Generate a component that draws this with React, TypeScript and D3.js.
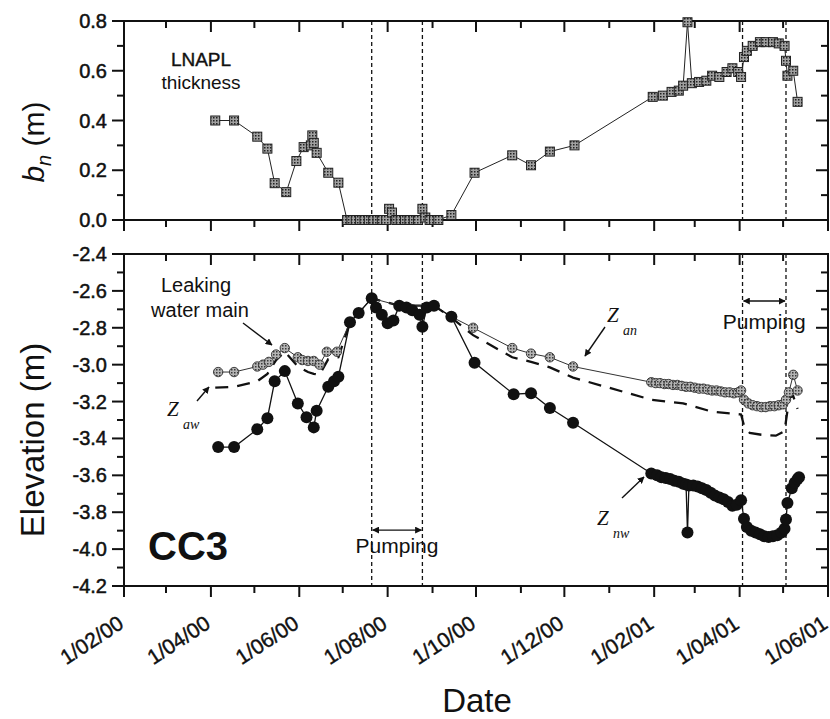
import React from "react";
import * as d3 from "d3";

// LNAPL thickness b_n (m)
const thickness: [string, number][] = [
  ["2000-04-04", 0.4], ["2000-04-17", 0.4], ["2000-05-03", 0.335], ["2000-05-10", 0.287],
  ["2000-05-15", 0.148], ["2000-05-23", 0.112], ["2000-05-30", 0.237], ["2000-06-04", 0.293],
  ["2000-06-09", 0.3], ["2000-06-10", 0.34], ["2000-06-11", 0.31], ["2000-06-13", 0.27],
  ["2000-06-21", 0.19], ["2000-06-28", 0.15], ["2000-07-04", 0], ["2000-07-07", 0],
  ["2000-07-10", 0], ["2000-07-13", 0], ["2000-07-16", 0], ["2000-07-19", 0],
  ["2000-07-22", 0], ["2000-07-25", 0], ["2000-07-28", 0], ["2000-07-31", 0],
  ["2000-08-02", 0.045], ["2000-08-04", 0.03], ["2000-08-07", 0], ["2000-08-10", 0],
  ["2000-08-13", 0], ["2000-08-16", 0], ["2000-08-19", 0], ["2000-08-22", 0],
  ["2000-08-25", 0.045], ["2000-08-27", 0.01], ["2000-08-30", 0], ["2000-09-02", 0],
  ["2000-09-05", 0], ["2000-09-14", 0.02], ["2000-09-30", 0.19], ["2000-10-26", 0.26],
  ["2000-11-08", 0.22], ["2000-11-21", 0.275], ["2000-12-08", 0.3], ["2001-01-31", 0.495],
  ["2001-02-07", 0.5], ["2001-02-13", 0.515], ["2001-02-18", 0.52], ["2001-02-21", 0.54],
  ["2001-02-24", 0.795], ["2001-02-27", 0.55], ["2001-03-04", 0.555], ["2001-03-09", 0.56],
  ["2001-03-13", 0.58], ["2001-03-18", 0.575], ["2001-03-23", 0.595], ["2001-03-27", 0.61],
  ["2001-03-31", 0.595], ["2001-04-02", 0.575], ["2001-04-04", 0.655], ["2001-04-06", 0.68],
  ["2001-04-10", 0.7], ["2001-04-15", 0.715], ["2001-04-19", 0.715], ["2001-04-24", 0.715],
  ["2001-04-28", 0.71], ["2001-05-02", 0.7], ["2001-05-03", 0.64], ["2001-05-04", 0.58],
  ["2001-05-08", 0.6], ["2001-05-11", 0.475],
];

// z_an: air/LNAPL interface elevation (m)
const zAn: [string, number][] = [
  ["2000-04-06", -3.04], ["2000-04-17", -3.04], ["2000-05-03", -3.01], ["2000-05-07", -3.0],
  ["2000-05-11", -2.985], ["2000-05-16", -2.945], ["2000-05-22", -2.91], ["2000-05-31", -2.96],
  ["2000-06-03", -2.975], ["2000-06-07", -2.98], ["2000-06-11", -2.98], ["2000-06-15", -3.0],
  ["2000-06-20", -2.93], ["2000-06-27", -2.93], ["2000-07-06", -2.77], ["2000-07-12", -2.72],
  ["2000-07-21", -2.64], ["2000-08-09", -2.68], ["2000-09-02", -2.68], ["2000-09-14", -2.74],
  ["2000-09-29", -2.8], ["2000-10-26", -2.91], ["2000-11-08", -2.94], ["2000-11-21", -2.96],
  ["2000-12-07", -3.01], ["2001-01-30", -3.095], ["2001-02-02", -3.1], ["2001-02-05", -3.1],
  ["2001-02-08", -3.105], ["2001-02-11", -3.105], ["2001-02-14", -3.11], ["2001-02-17", -3.11],
  ["2001-02-20", -3.115], ["2001-02-23", -3.12], ["2001-02-26", -3.12], ["2001-03-01", -3.125],
  ["2001-03-04", -3.13], ["2001-03-07", -3.13], ["2001-03-10", -3.135], ["2001-03-13", -3.14],
  ["2001-03-16", -3.14], ["2001-03-19", -3.145], ["2001-03-22", -3.15], ["2001-03-25", -3.15],
  ["2001-03-28", -3.155], ["2001-03-31", -3.15], ["2001-04-02", -3.14], ["2001-04-04", -3.19],
  ["2001-04-07", -3.21], ["2001-04-10", -3.22], ["2001-04-13", -3.225], ["2001-04-16", -3.23],
  ["2001-04-19", -3.23], ["2001-04-22", -3.225], ["2001-04-25", -3.225], ["2001-04-28", -3.22],
  ["2001-05-01", -3.215], ["2001-05-03", -3.19], ["2001-05-05", -3.15], ["2001-05-08", -3.055],
  ["2001-05-11", -3.14],
];

// z_nw: LNAPL/water interface elevation (m)
const zNw: [string, number][] = [
  ["2000-04-06", -3.447], ["2000-04-17", -3.447], ["2000-05-03", -3.35], ["2000-05-10", -3.29],
  ["2000-05-15", -3.09], ["2000-05-22", -3.035], ["2000-05-31", -3.21], ["2000-06-06", -3.285],
  ["2000-06-11", -3.34], ["2000-06-13", -3.25], ["2000-06-21", -3.12], ["2000-06-25", -3.09],
  ["2000-06-28", -3.065], ["2000-07-06", -2.77], ["2000-07-12", -2.72], ["2000-07-21", -2.64],
  ["2000-07-24", -2.69], ["2000-07-28", -2.73], ["2000-08-01", -2.775], ["2000-08-05", -2.76],
  ["2000-08-09", -2.68], ["2000-08-14", -2.69], ["2000-08-18", -2.705], ["2000-08-23", -2.73],
  ["2000-08-25", -2.795], ["2000-08-28", -2.69], ["2000-09-02", -2.68], ["2000-09-14", -2.74],
  ["2000-09-30", -2.99], ["2000-10-27", -3.16], ["2000-11-08", -3.155], ["2000-11-21", -3.235],
  ["2000-12-07", -3.315], ["2001-01-30", -3.59], ["2001-02-03", -3.6], ["2001-02-06", -3.61],
  ["2001-02-09", -3.615], ["2001-02-12", -3.62], ["2001-02-15", -3.63], ["2001-02-18", -3.635],
  ["2001-02-21", -3.645], ["2001-02-23", -3.65], ["2001-02-24", -3.91], ["2001-02-25", -3.655],
  ["2001-02-28", -3.655], ["2001-03-03", -3.66], ["2001-03-06", -3.67], ["2001-03-09", -3.68],
  ["2001-03-12", -3.695], ["2001-03-15", -3.71], ["2001-03-18", -3.72], ["2001-03-21", -3.73],
  ["2001-03-24", -3.745], ["2001-03-27", -3.765], ["2001-03-30", -3.76], ["2001-04-02", -3.735],
  ["2001-04-04", -3.835], ["2001-04-06", -3.88], ["2001-04-09", -3.9], ["2001-04-12", -3.91],
  ["2001-04-15", -3.92], ["2001-04-18", -3.93], ["2001-04-21", -3.935], ["2001-04-24", -3.93],
  ["2001-04-27", -3.925], ["2001-04-30", -3.91], ["2001-05-02", -3.89], ["2001-05-03", -3.84],
  ["2001-05-04", -3.75], ["2001-05-07", -3.67], ["2001-05-09", -3.64], ["2001-05-11", -3.62],
  ["2001-05-12", -3.61],
];

// z_aw: corrected water table (dashed)
const zAw: [string, number][] = [
  ["2000-04-04", -3.125], ["2000-04-17", -3.12], ["2000-05-03", -3.09], ["2000-05-10", -3.05],
  ["2000-05-16", -2.975], ["2000-05-22", -2.93], ["2000-05-31", -3.01], ["2000-06-07", -3.04],
  ["2000-06-11", -3.05], ["2000-06-15", -3.055], ["2000-06-21", -2.97], ["2000-06-28", -2.96],
  ["2000-07-06", -2.77], ["2000-07-12", -2.72], ["2000-07-21", -2.64], ["2000-08-09", -2.68],
  ["2000-09-02", -2.68], ["2000-09-14", -2.745], ["2000-09-29", -2.84], ["2000-10-26", -2.96],
  ["2000-11-08", -2.985], ["2000-11-21", -3.015], ["2000-12-07", -3.07], ["2001-01-30", -3.19],
  ["2001-02-21", -3.21], ["2001-03-13", -3.255], ["2001-04-02", -3.27], ["2001-04-04", -3.33],
  ["2001-04-08", -3.37], ["2001-04-16", -3.38], ["2001-04-26", -3.385], ["2001-05-02", -3.36],
  ["2001-05-04", -3.25], ["2001-05-05", -3.18], ["2001-05-08", -3.17], ["2001-05-11", -3.24],
];

const pumpingDates = ["2000-07-21", "2000-08-25", "2001-04-03", "2001-05-03"];

const xMajorDates = ["2000-02-01", "2000-04-01", "2000-06-01", "2000-08-01", "2000-10-01",
  "2000-12-01", "2001-02-01", "2001-04-01", "2001-06-01"];
const xTickLabels = ["1/02/00", "1/04/00", "1/06/00", "1/08/00", "1/10/00", "1/12/00",
  "1/02/01", "1/04/01", "1/06/01"];
const xMinorDates = ["2000-03-01", "2000-05-01", "2000-07-01", "2000-09-01", "2000-11-01",
  "2001-01-01", "2001-03-01", "2001-05-01"];

const yTopMajor = [0, 0.2, 0.4, 0.6, 0.8];
const yTopLabels = ["0.0", "0.2", "0.4", "0.6", "0.8"];
const yTopMinor = [0.1, 0.3, 0.5, 0.7];
const yBotMajor = [-2.4, -2.6, -2.8, -3.0, -3.2, -3.4, -3.6, -3.8, -4.0, -4.2];
const yBotLabels = ["-2.4", "-2.6", "-2.8", "-3.0", "-3.2", "-3.4", "-3.6", "-3.8", "-4.0", "-4.2"];
const yBotMinor = [-2.5, -2.7, -2.9, -3.1, -3.3, -3.5, -3.7, -3.9, -4.1];

const parse = d3.timeParse("%Y-%m-%d");
const SANS = "'Liberation Sans', Arial, sans-serif";
const SERIF = "'Liberation Serif', 'Times New Roman', serif";
const INK = "#111";

const W = 830;
const H = 719;
const L = 124;
const R = 828;

const x = d3.scaleTime()
  .domain([parse("2000-02-01")!, parse("2001-06-01")!])
  .range([L, R]);
const yTop = d3.scaleLinear().domain([0, 0.8]).range([220, 21]);
const yBot = d3.scaleLinear().domain([-4.2, -2.4]).range([586, 254]);

type Row = { d: Date; v: number };
const rows = (a: [string, number][]): Row[] => a.map(([d, v]) => ({ d: parse(d)!, v }));

function Panel({ y, major, labels, minor }: {
  y: d3.ScaleLinear<number, number>; major: number[]; labels: string[]; minor: number[];
}) {
  const [y0, y1] = y.range();
  const top = Math.min(y0, y1);
  const bot = Math.max(y0, y1);
  return (
    <g stroke={INK} fill="none">
      {xMajorDates.map((s) => {
        const px = x(parse(s)!);
        return (
          <g key={s}>
            <line x1={px} x2={px} y1={top} y2={top + 11} strokeWidth={2} />
            <line x1={px} x2={px} y1={bot} y2={bot + 11} strokeWidth={2} />
          </g>
        );
      })}
      {xMinorDates.map((s) => {
        const px = x(parse(s)!);
        return (
          <g key={s}>
            <line x1={px} x2={px} y1={top} y2={top + 7} strokeWidth={2} />
            <line x1={px} x2={px} y1={bot} y2={bot + 7} strokeWidth={2} />
          </g>
        );
      })}
      {major.map((v) => (
        <g key={v}>
          <line x1={L - 12} x2={L} y1={y(v)} y2={y(v)} strokeWidth={2} />
          <line x1={R - 12} x2={R} y1={y(v)} y2={y(v)} strokeWidth={2} />
        </g>
      ))}
      {minor.map((v) => (
        <g key={v}>
          <line x1={L - 7} x2={L} y1={y(v)} y2={y(v)} strokeWidth={2} />
          <line x1={R - 7} x2={R} y1={y(v)} y2={y(v)} strokeWidth={2} />
        </g>
      ))}
      <rect x={L} y={top} width={R - L} height={bot - top} strokeWidth={2} />
      {pumpingDates.map((s) => (
        <line key={s} x1={x(parse(s)!)} x2={x(parse(s)!)} y1={top} y2={bot}
          strokeWidth={1.3} strokeDasharray="4,3" />
      ))}
      <g stroke={INK} strokeWidth={0.5} fill={INK} fontFamily={SANS} fontSize={20} textAnchor="end">
        {major.map((v, i) => (
          <text key={v} x={L - 17} y={y(v) + 7}>{labels[i]}</text>
        ))}
      </g>
    </g>
  );
}

function Arrow({ x1, y1, x2, y2, both = false }: {
  x1: number; y1: number; x2: number; y2: number; both?: boolean;
}) {
  return (
    <line x1={x1} y1={y1} x2={x2} y2={y2} stroke={INK} strokeWidth={1.4}
      markerEnd="url(#ah)" markerStart={both ? "url(#ah)" : undefined} />
  );
}

export default function App() {
  const thick = rows(thickness);
  const an = rows(zAn);
  const nw = rows(zNw);
  const aw = rows(zAw);

  const lineTop = d3.line<Row>().x((r) => x(r.d)).y((r) => yTop(r.v));
  const lineBot = d3.line<Row>().x((r) => x(r.d)).y((r) => yBot(r.v));

  const p1 = x(parse(pumpingDates[0])!);
  const p2 = x(parse(pumpingDates[1])!);
  const p3 = x(parse(pumpingDates[2])!);
  const p4 = x(parse(pumpingDates[3])!);

  return (
    <svg width={W} height={H} viewBox={`0 0 ${W} ${H}`}
      style={{ position: "absolute", left: 0, top: 0, background: "#fff" }}>
      <defs>
        <pattern id="sqp" width={3} height={3} patternUnits="userSpaceOnUse">
          <rect width={3} height={3} fill="#a0a0a0" />
          <rect width={1.5} height={1.5} fill="#222" />
        </pattern>
        <pattern id="cip" width={3} height={3} patternUnits="userSpaceOnUse">
          <rect width={3} height={3} fill="#b4b4b4" />
          <rect width={1.5} height={1.5} fill="#3a3a3a" />
        </pattern>
        <marker id="ah" viewBox="0 0 10 10" refX={9} refY={5} markerWidth={7} markerHeight={7}
          markerUnits="userSpaceOnUse" orient="auto-start-reverse">
          <path d="M0,0 L10,5 L0,10 z" fill={INK} />
        </marker>
      </defs>
      <rect width={W} height={H} fill="#fff" />

      <Panel y={yTop} major={yTopMajor} labels={yTopLabels} minor={yTopMinor} />
      <Panel y={yBot} major={yBotMajor} labels={yBotLabels} minor={yBotMinor} />

      {/* top panel: LNAPL thickness */}
      <path d={lineTop(thick)!} fill="none" stroke="#222" strokeWidth={1} />
      {thick.map((r, i) => (
        <rect key={i} x={x(r.d) - 4.5} y={yTop(r.v) - 4.5} width={9} height={9}
          fill="url(#sqp)" stroke="#222" strokeWidth={1} />
      ))}

      {/* bottom panel */}
      <path d={lineBot(aw)!} fill="none" stroke={INK} strokeWidth={2.3} strokeDasharray="13,9" />
      <path d={lineBot(an)!} fill="none" stroke="#333" strokeWidth={1} />
      {an.map((r, i) => (
        <circle key={i} cx={x(r.d)} cy={yBot(r.v)} r={4.7}
          fill="url(#cip)" stroke="#333" strokeWidth={0.9} />
      ))}
      <path d={lineBot(nw)!} fill="none" stroke={INK} strokeWidth={1.3} />
      {nw.map((r, i) => (
        <circle key={i} cx={x(r.d)} cy={yBot(r.v)} r={6} fill={INK} />
      ))}

      {/* annotations */}
      <g fontFamily={SANS} fill={INK}>
        <text x={201} y={66} fontSize={19} textAnchor="middle" stroke={INK} strokeWidth={0.4}>LNAPL</text>
        <text x={201} y={89} fontSize={19} textAnchor="middle">thickness</text>
        <text x={196} y={292} fontSize={20} textAnchor="middle">Leaking</text>
        <text x={200} y={317} fontSize={20} textAnchor="middle">water main</text>
        <text x={148} y={560} fontSize={40} fontWeight="bold">CC3</text>
        <text x={(p1 + p2) / 2} y={yBot(-4.02)} fontSize={21} textAnchor="middle">Pumping</text>
        <text x={(p3 + p4) / 2} y={yBot(-2.807)} fontSize={21} textAnchor="middle">Pumping</text>
      </g>
      <Arrow x1={p1 + 1} y1={yBot(-3.897)} x2={p2 - 1} y2={yBot(-3.897)} both />
      <Arrow x1={p3 + 1} y1={yBot(-2.655)} x2={p4 - 1} y2={yBot(-2.655)} both />
      <Arrow x1={243} y1={323} x2={272} y2={345} />
      <Arrow x1={197} y1={401} x2={209} y2={387} />
      <Arrow x1={605} y1={327} x2={585} y2={356} />
      <Arrow x1={622} y1={498} x2={644} y2={477} />

      <g fontFamily={SERIF} fontStyle="italic" fill={INK}>
        <text x={167} y={416} fontSize={21}>Z</text>
        <text x={183} y={429} fontSize={14}>aw</text>
        <text x={607} y={322} fontSize={21}>Z</text>
        <text x={623} y={335} fontSize={14}>an</text>
        <text x={597} y={525} fontSize={21}>Z</text>
        <text x={613} y={538} fontSize={14}>nw</text>
      </g>

      {/* x tick labels */}
      <g fontFamily={SANS} fontSize={21} fill={INK} stroke={INK} strokeWidth={0.4} textAnchor="end">
        {xMajorDates.map((s, i) => {
          const ax = x(parse(s)!) + 1;
          const ay = 627;
          return (
            <text key={s} x={ax} y={ay} transform={`rotate(-33 ${ax} ${ay})`}>{xTickLabels[i]}</text>
          );
        })}
      </g>

      {/* axis titles */}
      <text x={477} y={712} fontFamily={SANS} fontSize={33} fill={INK} textAnchor="middle">Date</text>
      <text transform="translate(44,440) rotate(-90)" fontFamily={SANS} fontSize={33} fill={INK}
        textAnchor="middle">Elevation  (m)</text>
      <text transform="translate(44,142) rotate(-90)" fontFamily={SANS} fill={INK} textAnchor="middle">
        <tspan fontSize={30} fontStyle="italic">b</tspan>
        <tspan fontSize={20} fontStyle="italic" dy={7}>n</tspan>
        <tspan fontSize={30} dy={-7}>{"  (m)"}</tspan>
      </text>
    </svg>
  );
}
